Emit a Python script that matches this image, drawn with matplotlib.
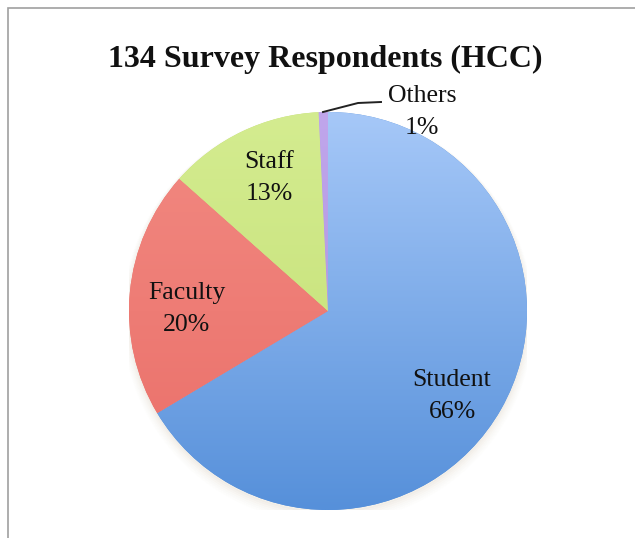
import matplotlib
matplotlib.use("Agg")
import matplotlib.pyplot as plt
import numpy as np
from matplotlib.patches import Rectangle
from matplotlib.colors import to_rgb

title = "134 Survey Respondents (HCC)"
categories = ["Student", "Faculty", "Staff", "Others"]
counts = [89, 27, 17, 1]
pct_labels = ["66%", "20%", "13%", "1%"]

top_colors = ["#a6c8f8", "#f28a82", "#d4ec90", "#c0a6ec"]
bottom_colors = ["#5690da", "#ea6e68", "#c2de72", "#a98ed8"]

W, H = 635, 538
fig = plt.figure(figsize=(W / 100, H / 100), dpi=100)
fig.patch.set_facecolor("white")

# frame (top & left visible)
fig.patches.append(Rectangle((8 / W, -0.1), 1.2, (H - 8) / H + 0.1, transform=fig.transFigure,
                             fill=False, edgecolor="#a0a0a0", linewidth=1.2))

cx, cy, r = 328, 311, 199
ax = fig.add_axes([(cx - r) / W, (H - cy - r) / H, 2 * r / W, 2 * r / H])
ax.set_xlim(-1, 1)
ax.set_ylim(-1, 1)

# soft shadow
for i, a in enumerate(np.linspace(0.05, 0.01, 6)):
    sh = plt.Circle((0.0, -0.012 - i * 0.004), 1.0 + i * 0.006, color="#c8b89a", alpha=a, zorder=0)
    ax.add_patch(sh)

wedges, _ = ax.pie(counts, startangle=90, counterclock=False, radius=1.0,
                   wedgeprops=dict(linewidth=0), frame=False)

ys = np.linspace(1, 0, 256)[:, None]
for w, tc, bc in zip(wedges, top_colors, bottom_colors):
    t = np.array(to_rgb(tc)); b = np.array(to_rgb(bc))
    grad = t[None, None, :] * ys[..., None] + b[None, None, :] * (1 - ys[..., None])
    grad = np.repeat(grad, 2, axis=1)
    w.set_facecolor(bc)
    im = ax.imshow(grad, extent=(-1, 1, -1, 1), origin="upper", aspect="auto", zorder=2,
                   interpolation="bilinear")
    im.set_clip_path(w)

ax.set_xlim(-1, 1)
ax.set_ylim(-1, 1)
ax.set_aspect("equal")
ax.axis("off")

font = "Liberation Serif"
fs = 18.5

def px(x, y):
    return ((x - cx) / r, (cy - y) / r)

label_pos = {"Student": (452, 396), "Faculty": (187, 309), "Staff": (269, 178), "Others": (422, 112)}
for cat, p in zip(categories, pct_labels):
    x, y = px(*label_pos[cat])
    ax.text(x, y, f"{cat}\n{p}", ha="center", va="center", fontsize=fs, family=font,
            color="#111111", linespacing=1.55, zorder=5, clip_on=False)

# leader line for Others
x0, y0 = px(323, 112)
x1, y1 = px(358, 103)
x2, y2 = px(381, 102)
ax.plot([x0, x1, x2], [y0, y1, y2], color="#222222", lw=1.4, zorder=5, clip_on=False)

fig.text(325 / W, 1 - 59 / H, title, ha="center", va="center", fontsize=23,
         family=font, fontweight="bold", color="#111111")

fig.savefig("out.png", dpi=100, facecolor="white")
